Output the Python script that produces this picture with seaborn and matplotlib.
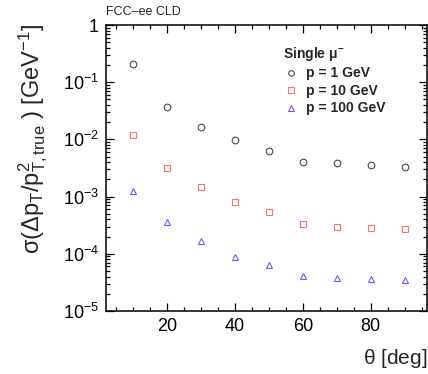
import numpy as np
import pandas as pd
import seaborn as sns
import matplotlib
matplotlib.use("Agg")
import matplotlib.pyplot as plt
from matplotlib.ticker import FixedLocator, FixedFormatter, MultipleLocator, LogLocator, NullFormatter
from matplotlib.lines import Line2D

# ---- data ----
theta = [10, 20, 30, 40, 50, 60, 70, 80, 90]
res_p1 = [0.208, 0.0373, 0.0167, 0.0098, 0.0062, 0.0041, 0.0038, 0.00352, 0.0033]
res_p10 = [0.0119, 0.0032, 0.00147, 8.05e-4, 5.45e-4, 3.36e-4, 2.98e-4, 2.82e-4, 2.72e-4]
res_p100 = [1.24e-3, 3.6e-4, 1.67e-4, 8.8e-5, 6.4e-5, 4.1e-5, 3.78e-5, 3.63e-5, 3.48e-5]
series_labels = ["p = 1 GeV", "p = 10 GeV", "p = 100 GeV"]
xtick_values = [20, 40, 60, 80]
ytick_values = [1e-5, 1e-4, 1e-3, 1e-2, 1e-1, 1]
ytick_labels = [r"$10^{-5}$", r"$10^{-4}$", r"$10^{-3}$", r"$10^{-2}$", r"$10^{-1}$", "1"]

df = pd.DataFrame({
    "theta": theta * 3,
    "res": res_p1 + res_p10 + res_p100,
    "series": [series_labels[0]] * 9 + [series_labels[1]] * 9 + [series_labels[2]] * 9,
})

sns.set_style("ticks")
plt.rcParams["font.family"] = ["Liberation Sans", "DejaVu Sans"]
plt.rcParams["mathtext.fontset"] = "custom"
plt.rcParams["mathtext.rm"] = "Liberation Sans"
plt.rcParams["mathtext.it"] = "Liberation Sans"
plt.rcParams["mathtext.bf"] = "Liberation Sans:bold"
plt.rcParams["mathtext.default"] = "regular"

fig = plt.figure(figsize=(4.28, 3.74), dpi=100)
ax = fig.add_axes([106 / 428, 1 - 311 / 374, 321 / 428, 286 / 374])

colors = ["#4a4a4a", "#ff7070", "#6060ff"]
markers = ["o", "s", "^"]
handles = []
for lab, c, m in zip(series_labels, colors, markers):
    sub = df[df["series"] == lab]
    sns.lineplot(data=sub, x="theta", y="res", ax=ax, linestyle="", marker=m,
                 markersize=4.8, markerfacecolor="none", markeredgecolor=c,
                 markeredgewidth=0.8, color=c, legend=False)
    handles.append(Line2D([], [], linestyle="", marker=m, markersize=4.0,
                          markerfacecolor="none", markeredgecolor=c, markeredgewidth=0.8))

ax.set_yscale("log")
ax.set_xlim(2.03, 96.6)
ax.set_ylim(1e-5, 1)

ax.xaxis.set_major_locator(FixedLocator(xtick_values))
ax.xaxis.set_minor_locator(MultipleLocator(5))
ax.yaxis.set_major_locator(FixedLocator(ytick_values))
ax.yaxis.set_major_formatter(FixedFormatter(ytick_labels))
ax.yaxis.set_minor_locator(LogLocator(base=10, subs=np.arange(2, 10)))
ax.yaxis.set_minor_formatter(NullFormatter())

ax.tick_params(which="both", direction="in", top=True, right=True, width=0.9, colors="black")
ax.tick_params(which="major", length=6, labelsize=13, pad=5)
ax.tick_params(which="minor", length=3)
for s in ax.spines.values():
    s.set_linewidth(1.1)
    s.set_color("black")

ax.set_xlabel(r"$\theta$ [deg]", fontsize=15, ha="right")
ax.xaxis.set_label_coords(1.0, -0.125)
ax.set_ylabel(r"$\sigma(\Delta p_{T}/p^{2}_{T,true}\ )$ [GeV$^{-1}$]", fontsize=17, ha="right")
ax.yaxis.set_label_coords(-0.175, 1.005)

fig.text(106 / 428, 1 - 12 / 374, "FCC\u2013ee CLD", fontsize=9, ha="left", va="center")

leg = ax.legend(handles, series_labels, title=r"Single $\mu^{-}$", loc="upper left",
                bbox_to_anchor=(0.551, 0.93), frameon=False, borderpad=0, borderaxespad=0,
                handlelength=1.2, handletextpad=0.45, labelspacing=0.25,
                prop={"weight": "bold", "size": 10},
                title_fontproperties={"weight": "bold", "size": 10})
leg._legend_box.align = "left"

fig.savefig("out.png", dpi=100)
